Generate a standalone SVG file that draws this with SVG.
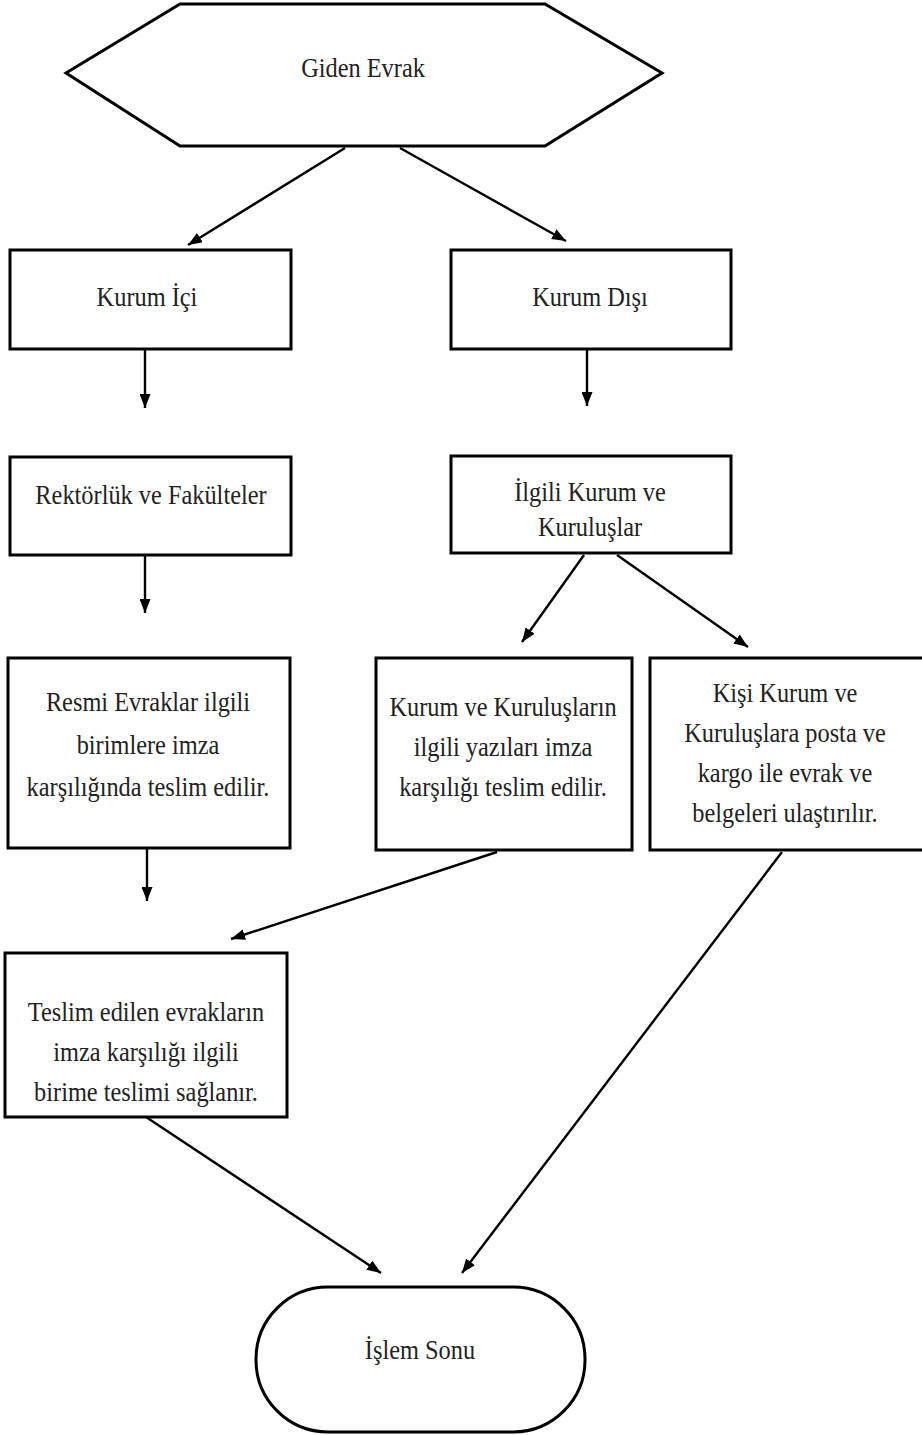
<svg xmlns="http://www.w3.org/2000/svg" width="922" height="1435" viewBox="0 0 922 1435">
<style>
.s{fill:#fff;stroke:#000;stroke-width:3}
.c{fill:none;stroke:#000;stroke-width:2.4}
.t{font-family:"Liberation Serif","Times New Roman",serif;font-size:28px;fill:#222;text-anchor:middle}
</style>
<defs>
<marker id="a" viewBox="0 0 14 11" refX="14" refY="5.5" markerWidth="14" markerHeight="11" markerUnits="userSpaceOnUse" orient="auto">
<path d="M0,0 L14,5.5 L0,11 Z" fill="#000"/>
</marker>
</defs>
<rect width="922" height="1435" fill="#fff"/>
<g id="connectors">
<line class="c" x1="345" y1="148" x2="188" y2="245" marker-end="url(#a)"/>
<line class="c" x1="400" y1="148" x2="566" y2="241" marker-end="url(#a)"/>
<line class="c" x1="145" y1="350" x2="145" y2="408" marker-end="url(#a)"/>
<line class="c" x1="587" y1="350" x2="587" y2="406" marker-end="url(#a)"/>
<line class="c" x1="145" y1="556" x2="145" y2="613" marker-end="url(#a)"/>
<line class="c" x1="584" y1="555" x2="522" y2="642" marker-end="url(#a)"/>
<line class="c" x1="617" y1="555" x2="748" y2="647" marker-end="url(#a)"/>
<line class="c" x1="147" y1="849" x2="147" y2="901" marker-end="url(#a)"/>
<line class="c" x1="497" y1="852" x2="231" y2="939" marker-end="url(#a)"/>
<line class="c" x1="782" y1="852" x2="462" y2="1273" marker-end="url(#a)"/>
<line class="c" x1="146" y1="1117" x2="381" y2="1273" marker-end="url(#a)"/>
</g>
<g id="n-giden">
<polygon class="s" points="66,73 180,4 545,4 662,73 545,146 180,146"/>
<text class="t" transform="translate(363,77) scale(0.87,1)">Giden Evrak</text>
</g>
<g id="n-ici">
<rect class="s" x="10" y="250" width="281" height="99"/>
<text class="t" transform="translate(147,306) scale(0.87,1)">Kurum İçi</text>
</g>
<g id="n-disi">
<rect class="s" x="451" y="250" width="280" height="99"/>
<text class="t" transform="translate(590,306) scale(0.87,1)">Kurum Dışı</text>
</g>
<g id="n-rektorluk">
<rect class="s" x="10" y="457" width="281" height="98"/>
<text class="t" transform="translate(151,504) scale(0.87,1)">Rektörlük ve Fakülteler</text>
</g>
<g id="n-ilgili">
<rect class="s" x="451" y="456" width="280" height="97"/>
<text class="t" transform="translate(590,501) scale(0.87,1)">İlgili Kurum ve</text>
<text class="t" transform="translate(590,536) scale(0.87,1)">Kuruluşlar</text>
</g>
<g id="n-resmi">
<rect class="s" x="8" y="658" width="282" height="190"/>
<text class="t" transform="translate(148,711) scale(0.87,1)">Resmi Evraklar ilgili</text>
<text class="t" transform="translate(148,754) scale(0.87,1)">birimlere imza</text>
<text class="t" transform="translate(148,796) scale(0.87,1)">karşılığında teslim edilir.</text>
</g>
<g id="n-kurumlar">
<rect class="s" x="376" y="658" width="256" height="192"/>
<text class="t" transform="translate(503,716) scale(0.87,1)">Kurum ve Kuruluşların</text>
<text class="t" transform="translate(503,756) scale(0.87,1)">ilgili yazıları imza</text>
<text class="t" transform="translate(503,796) scale(0.87,1)">karşılığı teslim edilir.</text>
</g>
<g id="n-kisi">
<rect class="s" x="650" y="658" width="275" height="192"/>
<text class="t" transform="translate(785,702) scale(0.87,1)">Kişi Kurum ve</text>
<text class="t" transform="translate(785,742) scale(0.87,1)">Kuruluşlara posta ve</text>
<text class="t" transform="translate(785,782) scale(0.87,1)">kargo ile evrak ve</text>
<text class="t" transform="translate(785,822) scale(0.87,1)">belgeleri ulaştırılır.</text>
</g>
<g id="n-teslim">
<rect class="s" x="5" y="953" width="282" height="164"/>
<text class="t" transform="translate(146,1021) scale(0.87,1)">Teslim edilen evrakların</text>
<text class="t" transform="translate(146,1061) scale(0.87,1)">imza karşılığı ilgili</text>
<text class="t" transform="translate(146,1101) scale(0.87,1)">birime teslimi sağlanır.</text>
</g>
<g id="n-son">
<rect class="s" x="256" y="1287" width="329" height="145" rx="72" ry="72"/>
<text class="t" transform="translate(420,1359) scale(0.87,1)">İşlem Sonu</text>
</g>
</svg>
